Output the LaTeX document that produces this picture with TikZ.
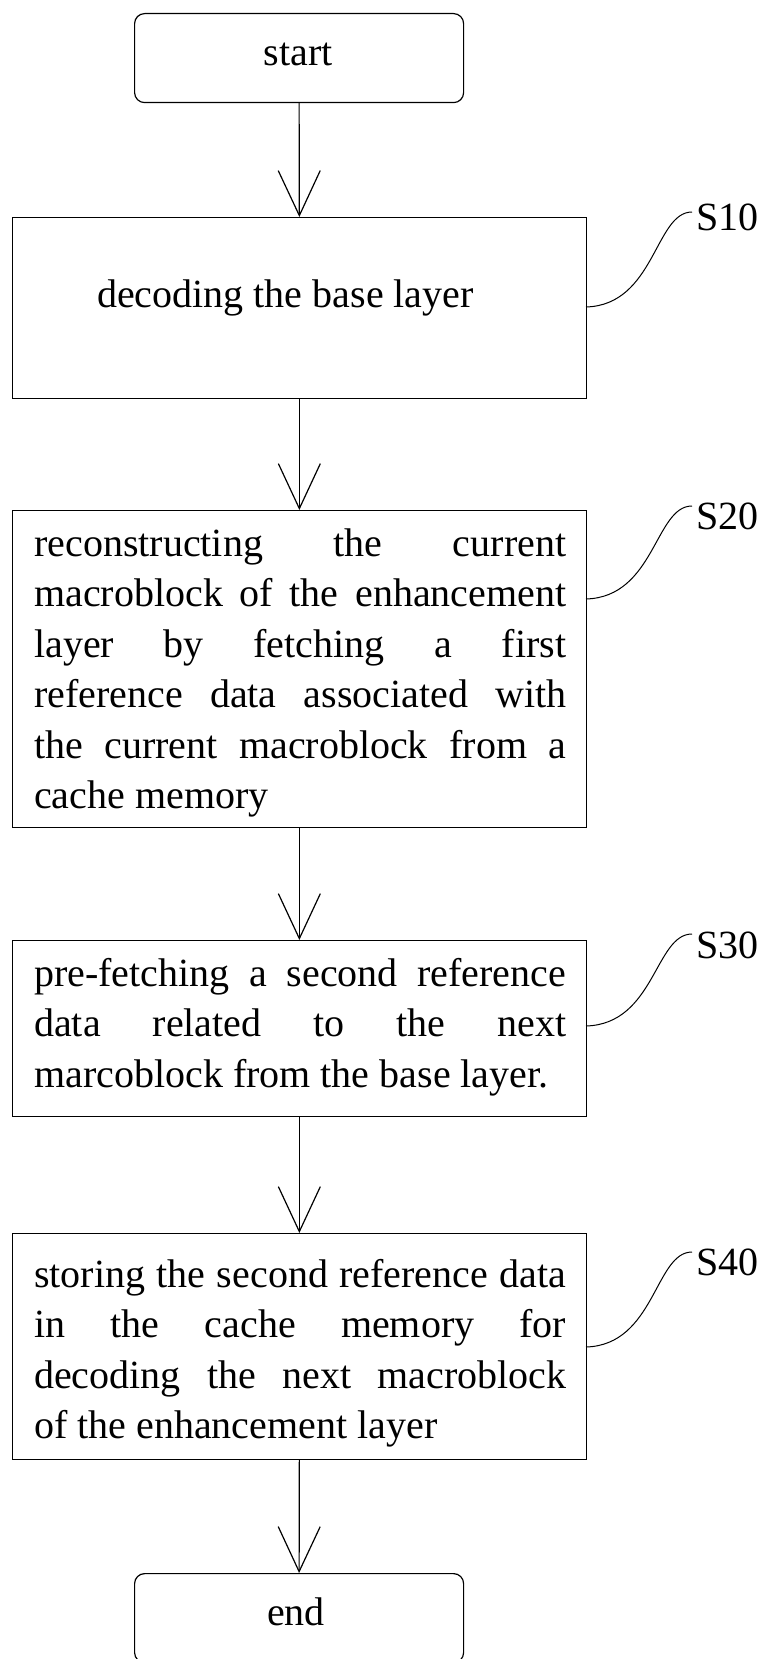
\documentclass[tikz,border=0pt]{standalone}
\usepackage{fontspec}
\setmainfont{Liberation Serif}
\usetikzlibrary{arrows.meta}
\newcommand\bodyfont{\fontsize{40}{50.5}\selectfont}
\newcommand\jl[1]{\makebox[532pt][s]{#1}\\}
\tikzset{
  box/.style={draw, line width=1.2pt, inner sep=0pt, anchor=north west},
  term/.style={box, rounded corners=10pt},
  flow/.style={line width=1.2pt, -{Straight Barb[length=45pt,width=42pt,line width=1.2pt]}},
  lead/.style={line width=1pt},
  steplabel/.style={anchor=base west, inner sep=0pt, font=\bodyfont},
  bodytext/.style={anchor=base west, inner sep=0pt, font=\bodyfont},
  termtext/.style={anchor=base, inner sep=0pt, font=\bodyfont}
}
\begin{document}
\begin{tikzpicture}[x=1pt,y=-1pt]
\useasboundingbox (0,0) rectangle (758,1659);
% boxes
\node[term, minimum width=329pt, minimum height=89pt] (start) at (134,13) {};
\node[box, minimum width=574.5pt, minimum height=181pt] (s10) at (11.5,217) {};
\node[box, minimum width=574.5pt, minimum height=317pt] (s20) at (11.5,510) {};
\node[box, minimum width=574.5pt, minimum height=176pt] (s30) at (11.5,940) {};
\node[box, minimum width=574.5pt, minimum height=226pt] (s40) at (11.5,1233) {};
\node[term, minimum width=329pt, minimum height=89pt] (end) at (134,1573) {};
% texts
\node[termtext] (tstart) at (298,66) {start};
\node[termtext] (tend) at (296,1625) {end};
\node[bodytext] (t10) at (97,307) {decoding the base layer};
\node[bodytext] (t20) at (34,556) {\parbox[t]{532pt}{\bodyfont
\jl{reconstructing the current}
\jl{macroblock of the enhancement}
\jl{layer by fetching a first}
\jl{reference data associated with}
\jl{the current macroblock from a}
cache memory}};
\node[bodytext] (t30) at (34,986) {\parbox[t]{532pt}{\bodyfont
\jl{pre-fetching a second reference}
\jl{data related to the next}
marcoblock from the base layer.}};
\node[bodytext] (t40) at (34,1287) {\parbox[t]{532pt}{\bodyfont
\jl{storing the second reference data}
\jl{in the cache memory for}
\jl{decoding the next macroblock}
of the enhancement layer}};
% connectors
\draw[flow] (start.south) -- (s10.north);
\draw[flow] (s10.south) -- (s20.north);
\draw[flow] (s20.south) -- (s30.north);
\draw[flow] (s30.south) -- (s40.north);
\draw[flow] (s40.south) -- (end.north);
% step labels
\node[steplabel] (l10) at (696,230) {S10};
\node[steplabel] (l20) at (696,529) {S20};
\node[steplabel] (l30) at (696,958) {S30};
\node[steplabel] (l40) at (696,1275) {S40};
\coordinate (b10) at (586,307);
\coordinate (e10) at (692,212);
\coordinate (b20) at (586,599);
\coordinate (e20) at (692,506);
\coordinate (b30) at (586,1026);
\coordinate (e30) at (692,934);
\coordinate (b40) at (586,1347);
\coordinate (e40) at (692,1252);
\draw[lead] (b10) .. controls +(69,-2) and +(-37,0) .. (e10);
\draw[lead] (b20) .. controls +(69,-2) and +(-37,0) .. (e20);
\draw[lead] (b30) .. controls +(69,-2) and +(-37,0) .. (e30);
\draw[lead] (b40) .. controls +(69,-2) and +(-37,0) .. (e40);
\end{tikzpicture}
\end{document}
